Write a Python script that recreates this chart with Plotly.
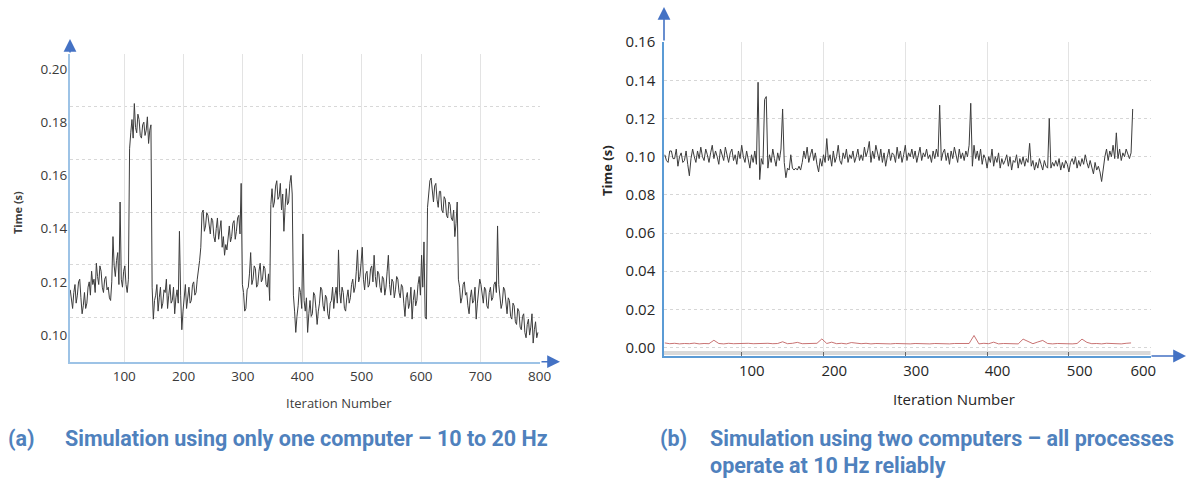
import plotly.graph_objects as go

# ---------------- data: (a) one computer ----------------
iters_a = list(range(9, 798, 2))
time_a = [
    0.117, 0.113, 0.110, 0.116, 0.119, 0.112, 0.115, 0.120, 0.121, 0.114, 0.108, 0.111, 0.116, 0.110, 0.112, 0.118, 0.120, 0.115, 0.124, 0.119,
    0.121, 0.116, 0.127, 0.122, 0.119, 0.126, 0.124, 0.118, 0.116, 0.121, 0.122, 0.117, 0.118, 0.114, 0.113, 0.120, 0.137, 0.126, 0.122, 0.128,
    0.131, 0.119, 0.150, 0.121, 0.118, 0.124, 0.126, 0.119, 0.116, 0.121, 0.170, 0.176, 0.181, 0.174, 0.187, 0.178, 0.176, 0.183, 0.181, 0.175,
    0.174, 0.179, 0.180, 0.175, 0.177, 0.182, 0.172, 0.177, 0.179, 0.118, 0.106, 0.113, 0.115, 0.119, 0.109, 0.114, 0.118, 0.110, 0.112, 0.117,
    0.116, 0.121, 0.110, 0.115, 0.119, 0.112, 0.113, 0.118, 0.108, 0.114, 0.117, 0.112, 0.139, 0.115, 0.102, 0.109, 0.114, 0.119, 0.110, 0.115,
    0.118, 0.112, 0.113, 0.119, 0.120, 0.115, 0.116, 0.121, 0.124, 0.128, 0.133, 0.146, 0.147, 0.139, 0.141, 0.146, 0.145, 0.140, 0.138, 0.144,
    0.143, 0.137, 0.135, 0.140, 0.144, 0.136, 0.139, 0.143, 0.133, 0.137, 0.130, 0.134, 0.132, 0.138, 0.141, 0.135, 0.137, 0.142, 0.143, 0.136,
    0.139, 0.144, 0.145, 0.138, 0.157, 0.119, 0.116, 0.109, 0.110, 0.117, 0.118, 0.123, 0.131, 0.119, 0.121, 0.126, 0.125, 0.118, 0.119, 0.124,
    0.127, 0.120, 0.121, 0.126, 0.125, 0.119, 0.118, 0.123, 0.113, 0.149, 0.155, 0.148, 0.150, 0.156, 0.158, 0.151, 0.152, 0.157, 0.147, 0.153,
    0.139, 0.148, 0.155, 0.149, 0.150, 0.157, 0.160, 0.153, 0.115, 0.109, 0.101, 0.107, 0.111, 0.118, 0.116, 0.110, 0.138, 0.113, 0.109, 0.114,
    0.101, 0.108, 0.113, 0.107, 0.108, 0.116, 0.115, 0.110, 0.104, 0.109, 0.112, 0.118, 0.117, 0.111, 0.109, 0.115, 0.114, 0.108, 0.106, 0.112,
    0.113, 0.118, 0.110, 0.115, 0.118, 0.112, 0.132, 0.116, 0.112, 0.118, 0.116, 0.110, 0.109, 0.114, 0.117, 0.112, 0.114, 0.119, 0.121, 0.116,
    0.118, 0.124, 0.132, 0.120, 0.122, 0.127, 0.133, 0.121, 0.117, 0.123, 0.124, 0.118, 0.119, 0.125, 0.126, 0.120, 0.130, 0.122, 0.118, 0.124,
    0.123, 0.118, 0.116, 0.122, 0.121, 0.115, 0.118, 0.124, 0.130, 0.119, 0.115, 0.121, 0.120, 0.114, 0.117, 0.122, 0.121, 0.116, 0.114, 0.119,
    0.118, 0.112, 0.107, 0.114, 0.116, 0.110, 0.112, 0.118, 0.106, 0.113, 0.117, 0.111, 0.113, 0.119, 0.122, 0.115, 0.130, 0.118, 0.135, 0.107,
    0.106, 0.148, 0.152, 0.158, 0.159, 0.153, 0.150, 0.156, 0.157, 0.151, 0.148, 0.154, 0.154, 0.147, 0.146, 0.152, 0.151, 0.145, 0.144, 0.150,
    0.149, 0.144, 0.143, 0.147, 0.137, 0.142, 0.150, 0.121, 0.118, 0.112, 0.114, 0.119, 0.120, 0.115, 0.116, 0.111, 0.108, 0.114, 0.117, 0.112,
    0.113, 0.118, 0.106, 0.112, 0.116, 0.121, 0.119, 0.114, 0.112, 0.118, 0.117, 0.111, 0.110, 0.116, 0.118, 0.113, 0.114, 0.119, 0.120, 0.116,
    0.141, 0.119, 0.115, 0.110, 0.112, 0.118, 0.117, 0.111, 0.108, 0.114, 0.113, 0.107, 0.106, 0.112, 0.111, 0.105, 0.104, 0.110, 0.109, 0.103,
    0.102, 0.107, 0.108, 0.101, 0.099, 0.104, 0.106, 0.100, 0.103, 0.108, 0.097, 0.102, 0.105, 0.099, 0.101,
]

# ---------------- data: (b) two computers ----------------
iters_b = list(range(6, 579, 2))
time_b = [
    0.101, 0.098, 0.097, 0.103, 0.103, 0.099, 0.099, 0.104, 0.095, 0.100, 0.102, 0.097, 0.098, 0.103, 0.096, 0.090, 0.099, 0.104, 0.100, 0.097,
    0.103, 0.099, 0.105, 0.100, 0.098, 0.104, 0.101, 0.097, 0.102, 0.106, 0.099, 0.103, 0.100, 0.096, 0.104, 0.101, 0.098, 0.105, 0.100, 0.097,
    0.102, 0.104, 0.098, 0.101, 0.096, 0.103, 0.099, 0.106, 0.100, 0.097, 0.103, 0.099, 0.094, 0.101, 0.097, 0.103, 0.096, 0.139, 0.088, 0.099,
    0.096, 0.130, 0.1315, 0.094, 0.101, 0.097, 0.104, 0.099, 0.095, 0.102, 0.098, 0.104, 0.125, 0.097, 0.089, 0.094, 0.093, 0.101, 0.094, 0.093,
    0.094, 0.093, 0.095, 0.093, 0.097, 0.103, 0.099, 0.105, 0.097, 0.101, 0.104, 0.098, 0.102, 0.096, 0.092, 0.099, 0.095, 0.101, 0.097, 0.1095,
    0.098, 0.101, 0.095, 0.103, 0.097, 0.100, 0.106, 0.098, 0.096, 0.102, 0.099, 0.104, 0.097, 0.101, 0.099, 0.103, 0.097, 0.100, 0.104, 0.098,
    0.101, 0.098, 0.105, 0.100, 0.103, 0.108, 0.097, 0.103, 0.099, 0.106, 0.101, 0.098, 0.104, 0.097, 0.102, 0.095, 0.100, 0.104, 0.098, 0.102,
    0.101, 0.097, 0.105, 0.099, 0.103, 0.097, 0.101, 0.106, 0.098, 0.102, 0.100, 0.104, 0.099, 0.103, 0.097, 0.101, 0.105, 0.098, 0.102, 0.100,
    0.104, 0.099, 0.101, 0.097, 0.103, 0.099, 0.104, 0.100, 0.127, 0.098, 0.102, 0.104, 0.098, 0.102, 0.096, 0.103, 0.099, 0.105, 0.101, 0.097,
    0.104, 0.099, 0.102, 0.098, 0.103, 0.100, 0.106, 0.128, 0.095, 0.106, 0.099, 0.103, 0.098, 0.104, 0.096, 0.101, 0.099, 0.094, 0.100, 0.097,
    0.104, 0.095, 0.100, 0.097, 0.102, 0.094, 0.099, 0.096, 0.098, 0.101, 0.095, 0.100, 0.093, 0.098, 0.097, 0.101, 0.094, 0.099, 0.096, 0.100,
    0.095, 0.099, 0.097, 0.107, 0.095, 0.098, 0.093, 0.097, 0.094, 0.099, 0.096, 0.093, 0.098, 0.095, 0.094, 0.120, 0.094, 0.097, 0.095, 0.098,
    0.095, 0.099, 0.093, 0.097, 0.094, 0.098, 0.096, 0.092, 0.097, 0.099, 0.096, 0.100, 0.094, 0.098, 0.095, 0.099, 0.096, 0.101, 0.097, 0.094,
    0.098, 0.095, 0.091, 0.097, 0.093, 0.095, 0.092, 0.087, 0.095, 0.100, 0.104, 0.098, 0.103, 0.100, 0.106, 0.099, 0.1125, 0.099, 0.104, 0.098,
    0.102, 0.100, 0.104, 0.101, 0.099, 0.102, 0.125,
]

iters_b_red = list(range(6, 580, 6))
time_b_red = [
    0.0024, 0.0020, 0.0022, 0.0019, 0.0021, 0.0020, 0.0023, 0.0019, 0.0021, 0.0020,
    0.0038, 0.0021, 0.0019, 0.0022, 0.0020, 0.0021, 0.0019, 0.0022, 0.0020, 0.0021,
    0.0019, 0.0022, 0.0020, 0.0021, 0.0030, 0.0020, 0.0022, 0.0027, 0.0020, 0.0021,
    0.0019, 0.0022, 0.0045, 0.0021, 0.0028, 0.0020, 0.0022, 0.0019, 0.0026, 0.0021,
    0.0020, 0.0022, 0.0019, 0.0021, 0.0020, 0.0022, 0.0019, 0.0021, 0.0020, 0.0022,
    0.0019, 0.0021, 0.0020, 0.0022, 0.0019, 0.0021, 0.0020, 0.0022, 0.0019, 0.0021,
    0.0020, 0.0022, 0.0021, 0.0063, 0.0019, 0.0022, 0.0020, 0.0028, 0.0019, 0.0021,
    0.0020, 0.0022, 0.0019, 0.0044, 0.0030, 0.0020, 0.0029, 0.0037, 0.0021, 0.0019,
    0.0021, 0.0020, 0.0022, 0.0019, 0.0021, 0.0044, 0.0027, 0.0020, 0.0021, 0.0019,
    0.0022, 0.0020, 0.0021, 0.0019, 0.0022, 0.0024,
]

ticks_a_x = [100, 200, 300, 400, 500, 600, 700, 800]
ticks_a_y = [0.10, 0.12, 0.14, 0.16, 0.18, 0.20]
ticks_b_x = [100, 200, 300, 400, 500, 600]
ticks_b_y = [0.00, 0.02, 0.04, 0.06, 0.08, 0.10, 0.12, 0.14, 0.16]

captions = {
    "a_tag": "(a)",
    "a_text": "Simulation using only one computer \u2013 10 to 20 Hz",
    "b_tag": "(b)",
    "b_text1": "Simulation using two computers \u2013 all processes",
    "b_text2": "operate at 10 Hz reliably",
}

# ---------------- figure ----------------
W, H = 1188, 480
def px(x):
    return x / W
def py(y):
    return 1 - y / H

fig = go.Figure()
fig.add_trace(go.Scatter(x=iters_a, y=time_a, mode="lines",
                         line=dict(color="#3c3c3c", width=1), xaxis="x", yaxis="y",
                         showlegend=False))
fig.add_trace(go.Scatter(x=iters_b, y=time_b, mode="lines",
                         line=dict(color="#3c3c3c", width=1), xaxis="x2", yaxis="y2",
                         showlegend=False))
fig.add_trace(go.Scatter(x=iters_b_red, y=time_b_red, mode="lines",
                         line=dict(color="rgba(190,90,90,0.85)", width=1), xaxis="x2", yaxis="y2",
                         showlegend=False))

tick_font_a = dict(family="Open Sans, sans-serif", size=13.5, color="#3a3a3a")
tick_font_b = dict(family="Open Sans, sans-serif", size=15, color="#262626")
axis_blue_a = "#9DC3E6"
axis_blue_b = "#5B9BD5"
arrow_blue = "#4472C4"

# label positions of (b)'s x axis sit a little right of its gridlines
label_pos_b_x = [112.3, 213.2, 313.2, 412.7, 513.2, 590.9]
# gridlines of (a)'s y axis sit a little above its labels
grid_pos_a_y = [0.1066, 0.1264, 0.1462, 0.1660, 0.1858, 0.2056]

fig.update_layout(
    width=W, height=H, margin=dict(l=0, r=0, t=0, b=0, autoexpand=False),
    paper_bgcolor="white", plot_bgcolor="white",
    xaxis=dict(domain=[px(70), px(540)], range=[8.6, 800.5], anchor="y", automargin=False,
               tickvals=ticks_a_x, ticktext=[str(v) for v in ticks_a_x],
               showgrid=True, gridcolor="#E3E3E3", gridwidth=1,
               showline=True, linecolor=axis_blue_a, linewidth=2,
               zeroline=False, ticks="", tickfont=tick_font_a, ticklabelstandoff=1),
    yaxis=dict(domain=[py(361.7), py(53.5)], range=[0.0900, 0.2058], anchor="x", automargin=False,
               tickvals=ticks_a_y, ticktext=["%.2f" % v for v in ticks_a_y],
               showgrid=False,
               minor=dict(tickvals=grid_pos_a_y, showgrid=True, gridcolor="#D8D8D8",
                          gridwidth=1, griddash="dot", ticks=""),
               showline=True, linecolor=axis_blue_a, linewidth=2,
               zeroline=False, ticks="", tickfont=tick_font_a, ticklabelstandoff=-2),
    xaxis2=dict(domain=[px(664), px(1150.7)], range=[5, 600], anchor="y2", automargin=False,
                tickvals=label_pos_b_x, ticktext=[str(v) for v in ticks_b_x],
                showgrid=False, ticks="",
                minor=dict(tickvals=ticks_b_x[:-1], showgrid=True, gridcolor="#E3E3E3",
                           gridwidth=1, ticks="inside", ticklen=4, tickcolor="#666",
                           tickwidth=1),
                showline=True, linecolor=axis_blue_b, linewidth=1.5,
                zeroline=False, tickfont=tick_font_b, ticklabelstandoff=0),
    yaxis2=dict(domain=[py(356), py(42.2)], range=[-0.00445, 0.16], anchor="x2", automargin=False,
                tickvals=ticks_b_y, ticktext=["%.2f" % v for v in ticks_b_y],
                showgrid=True, gridcolor="#D6D6D6", gridwidth=1, griddash="dot",
                showline=True, linecolor=axis_blue_b, linewidth=1.5,
                zeroline=False, ticks="", tickfont=tick_font_b, ticklabelstandoff=4),
)

# grey band just above the x axis of (b)
fig.add_shape(type="rect", xref="x2", yref="y2", x0=5, x1=600, y0=-0.0039, y1=-0.0018,
              fillcolor="#D9D9D9", line=dict(width=0), layer="below")

annotations = []
# axis arrow heads
for (hx, hy, ax, ay) in [
    (px(70), py(39), 0, 15),
    (px(560), py(361.7), -20, 0),
    (px(664), py(7), 0, 35),
    (px(1186), py(356), -36, 0),
]:
    annotations.append(dict(xref="paper", yref="paper", x=hx, y=hy, ax=ax, ay=ay,
                            text="", showarrow=True, arrowhead=2, arrowsize=1.6,
                            arrowwidth=1.6, arrowcolor=arrow_blue))

annotations += [
    dict(xref="paper", yref="paper", x=px(339), y=py(403), text="Iteration Number",
         xanchor="center", yanchor="middle", showarrow=False,
         font=dict(family="Open Sans, sans-serif", size=13, color="#404040")),
    dict(xref="paper", yref="paper", x=px(954), y=py(399), text="Iteration Number",
         xanchor="center", yanchor="middle", showarrow=False,
         font=dict(family="Open Sans, sans-serif", size=15, color="#262626")),
    dict(xref="paper", yref="paper", x=px(17), y=py(213), text="<b>Time (s)</b>", textangle=-90,
         xanchor="center", yanchor="middle", showarrow=False,
         font=dict(family="Open Sans, sans-serif", size=11, color="#404040")),
    dict(xref="paper", yref="paper", x=px(607), y=py(171), text="<b>Time (s)</b>", textangle=-90,
         xanchor="center", yanchor="middle", showarrow=False,
         font=dict(family="Open Sans, sans-serif", size=13, color="#262626")),
]

cap_font = dict(family="Roboto, sans-serif", size=21.5, color="#4F81BD")
for (x0, y0, key) in [(6, 438, "a_tag"), (63, 438, "a_text"), (658, 438, "b_tag"),
                      (708, 438, "b_text1"), (708, 465, "b_text2")]:
    annotations.append(dict(xref="paper", yref="paper", x=px(x0), y=py(y0),
                            xanchor="left", yanchor="middle", showarrow=False,
                            text="<b>" + captions[key] + "</b>", font=cap_font))

fig.update_layout(annotations=annotations)
fig.write_html("out.html", post_script="document.body.style.margin='0';",
               config={"displayModeBar": False})
